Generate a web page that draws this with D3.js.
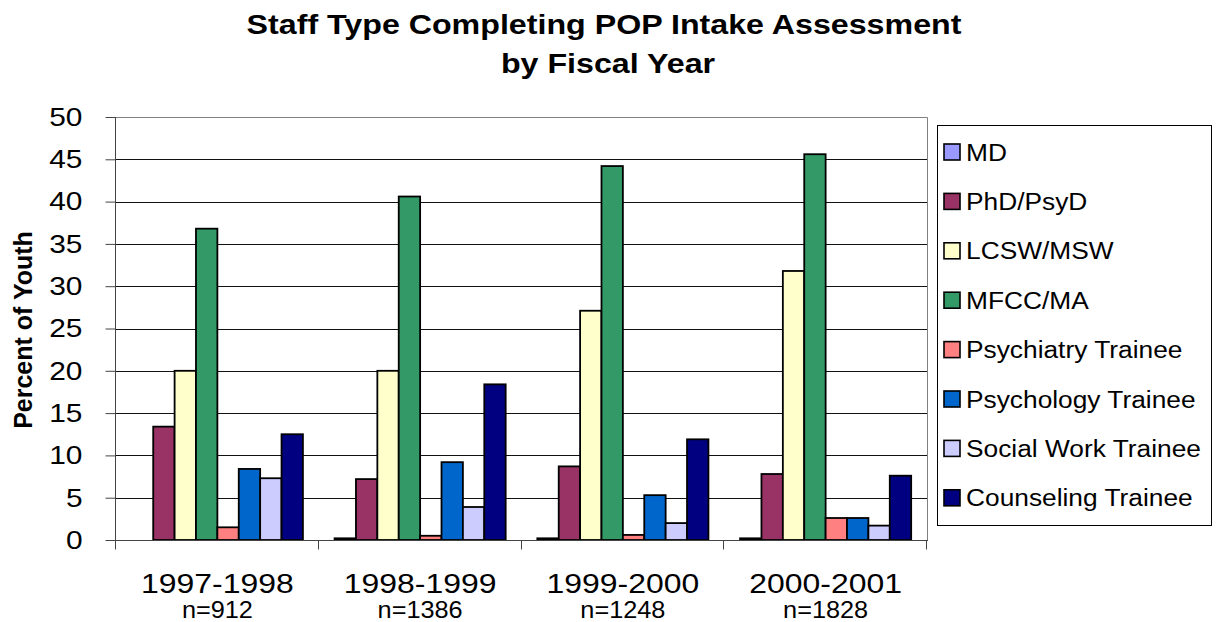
<!DOCTYPE html>
<html>
<head>
<meta charset="utf-8">
<script src="https://cdn.jsdelivr.net/npm/d3@7"></script>
<style>
  body { margin: 0; background: #fff; }
  text { font-family: Arial, "Liberation Sans", sans-serif; fill: #000; }
</style>
</head>
<body>
<div id="chart"></div>
<script>
// Data
const years = ['1997-1998', '1998-1999', '1999-2000', '2000-2001'];
const counts = ['n=912', 'n=1386', 'n=1248', 'n=1828'];
const staffTypes = ['MD', 'PhD/PsyD', 'LCSW/MSW', 'MFCC/MA', 'Psychiatry Trainee',
    'Psychology Trainee', 'Social Work Trainee', 'Counseling Trainee'];
const colors = ['#9999FF', '#993366', '#FFFFCC', '#339966', '#FF8080',
    '#0066CC', '#CCCCFF', '#000080'];
// one array per staff type, values by fiscal year
const md = [0, 0.2, 0.2, 0.2];
const phd = [13.4, 7.2, 8.7, 7.8];
const lcsw = [20.0, 20.0, 27.1, 31.8];
const mfcc = [36.8, 40.6, 44.2, 45.6];
const psychiatryTrainee = [1.5, 0.5, 0.6, 2.6];
const psychologyTrainee = [8.4, 9.2, 5.3, 2.6];
const socialWorkTrainee = [7.3, 3.9, 2.0, 1.7];
const counselingTrainee = [12.5, 18.4, 11.9, 7.6];
const yTicks = [0, 5, 10, 15, 20, 25, 30, 35, 40, 45, 50];

const series = [md, phd, lcsw, mfcc, psychiatryTrainee, psychologyTrainee,
    socialWorkTrainee, counselingTrainee];

const width = 1219, height = 622;
const plot = { left: 116, right: 927, top: 117, bottom: 540 };

const svg = d3.select('#chart').append('svg')
    .attr('width', width)
    .attr('height', height);

// text in the reference is a bit wider than plain Arial
function stretchedText(parent, x, y, sx, str) {
    return parent.append('text')
        .attr('transform', `translate(${x},${y}) scale(${sx},1)`)
        .text(str);
}

// Scales
const x0 = d3.scaleBand().domain(years).range([plot.left, plot.right]);
const x1 = d3.scaleBand().domain(staffTypes).range([0, x0.bandwidth()]).paddingOuter(0.74);
const y = d3.scaleLinear().domain([0, 50]).range([plot.bottom, plot.top]);

// Gridlines
svg.append('g')
    .selectAll('line')
    .data(yTicks.filter(d => d > 0 && d < 50))
    .join('line')
    .attr('x1', plot.left).attr('x2', plot.right)
    .attr('y1', d => Math.round(y(d)) + 0.5).attr('y2', d => Math.round(y(d)) + 0.5)
    .attr('stroke', '#111');

// Plot border (top and right)
svg.append('path')
    .attr('d', `M${plot.left},${plot.top + 0.5}H${plot.right + 0.5}V${plot.bottom}`)
    .attr('fill', 'none')
    .attr('stroke', '#808080');

// Bars
const groups = svg.append('g')
    .selectAll('g')
    .data(years)
    .join('g')
    .attr('transform', d => `translate(${x0(d)},0)`);

groups.selectAll('rect')
    .data((yr, i) => staffTypes.map((s, k) => ({ s, k, v: series[k][i] })))
    .join('rect')
    .attr('x', d => x1(d.s))
    .attr('y', d => y(d.v))
    .attr('width', x1.bandwidth())
    .attr('height', d => y(0) - y(d.v))
    .attr('fill', d => colors[d.k])
    .attr('stroke', '#000')
    .attr('stroke-width', d => d.v > 0 ? 1.8 : 0);

// Y axis
const yAxis = svg.append('g')
    .attr('transform', `translate(${plot.left - 0.5},0)`)
    .call(d3.axisLeft(y).tickValues(yTicks).tickSize(10).tickPadding(23));
yAxis.select('.domain').attr('stroke', '#444').attr('d', `M0,${plot.top}V${plot.bottom + 1}`);
yAxis.selectAll('.tick line').attr('stroke', '#444');
yAxis.selectAll('text')
    .attr('x', 0)
    .attr('transform', 'translate(-33,0) scale(1.15,1)')
    .style('font-size', '26px')
    .attr('font-family', 'Arial, "Liberation Sans", sans-serif');

// X axis (boundary ticks)
const xAxis = svg.append('g')
    .attr('transform', `translate(0,${plot.bottom + 0.5})`);
xAxis.append('line')
    .attr('x1', plot.left).attr('x2', plot.right + 1)
    .attr('stroke', '#444');
xAxis.selectAll('.bound')
    .data(years.concat(['end']))
    .join('line')
    .attr('class', 'bound')
    .attr('x1', (d, i) => Math.round(plot.left + i * x0.step()) - 0.5)
    .attr('x2', (d, i) => Math.round(plot.left + i * x0.step()) - 0.5)
    .attr('y1', 0).attr('y2', 9)
    .attr('stroke', '#444');

years.forEach((yr, i) => {
    const cx = x0(yr) + x0.bandwidth() / 2;
    stretchedText(svg, cx, 593, 1.14, yr)
        .attr('text-anchor', 'middle')
        .style('font-size', '28px');
    stretchedText(svg, cx, 618, 1.1, counts[i])
        .attr('text-anchor', 'middle')
        .style('font-size', '23px');
});

// Y axis title
svg.append('text')
    .attr('transform', 'translate(32,330) rotate(-90)')
    .attr('text-anchor', 'middle')
    .style('font-size', '25px')
    .style('font-weight', 'bold')
    .text('Percent of Youth');

// Title
stretchedText(svg, 604, 34, 1.13, 'Staff Type Completing POP Intake Assessment')
    .attr('text-anchor', 'middle')
    .style('font-size', '28.5px')
    .style('font-weight', 'bold');
stretchedText(svg, 608, 73, 1.13, 'by Fiscal Year')
    .attr('text-anchor', 'middle')
    .style('font-size', '28.5px')
    .style('font-weight', 'bold');

// Legend
const legend = svg.append('g');
legend.append('rect')
    .attr('x', 937.5).attr('y', 125.5)
    .attr('width', 274).attr('height', 400)
    .attr('fill', '#fff')
    .attr('stroke', '#000');

staffTypes.forEach((s, i) => {
    const cy = 152 + i * 49.4;
    legend.append('rect')
        .attr('x', 944).attr('y', cy - 8)
        .attr('width', 16).attr('height', 16)
        .attr('fill', colors[i])
        .attr('stroke', '#000')
        .attr('stroke-width', 1.6);
    stretchedText(legend, 966, cy + 8.5, 1.12, s)
        .style('font-size', '23.5px');
});
</script>
</body>
</html>
